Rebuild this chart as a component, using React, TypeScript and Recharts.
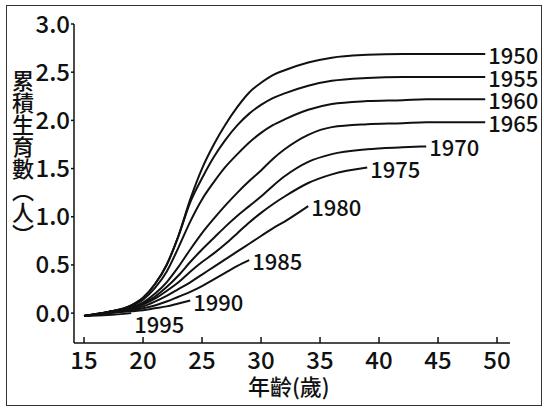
import { Line, LineChart, XAxis, YAxis } from "recharts";

const FONT = '"Noto Sans CJK TC", "Noto Sans", sans-serif';

// age (years) at which each cohort curve is sampled
const AGES = [15, 17, 19, 20, 21, 22, 23, 24, 25, 26, 27, 28, 29, 30, 31, 32, 34, 36, 39, 42, 44, 46, 49];

// cumulative births per woman, by birth cohort (null = not yet observed)
const c1950 = [-0.03, 0.01, 0.08, 0.16, 0.3, 0.5, 0.8, 1.18, 1.5, 1.75, 1.96, 2.14, 2.29, 2.39, 2.47, 2.52, 2.6, 2.65, 2.68, 2.69, 2.69, 2.69, 2.69];
const c1955 = [-0.03, 0.01, 0.08, 0.16, 0.3, 0.5, 0.8, 1.15, 1.4, 1.62, 1.8, 1.95, 2.07, 2.16, 2.23, 2.28, 2.36, 2.41, 2.44, 2.45, 2.45, 2.45, 2.45];
const c1960 = [-0.03, 0.01, 0.07, 0.14, 0.26, 0.43, 0.68, 0.95, 1.18, 1.36, 1.52, 1.65, 1.77, 1.87, 1.95, 2.01, 2.11, 2.17, 2.2, 2.21, 2.22, 2.22, 2.22];
const c1965 = [-0.03, 0.01, 0.06, 0.11, 0.2, 0.32, 0.48, 0.66, 0.83, 0.98, 1.12, 1.25, 1.37, 1.48, 1.6, 1.7, 1.85, 1.93, 1.96, 1.97, 1.98, 1.98, 1.98];
const c1970 = [-0.03, 0.01, 0.05, 0.1, 0.17, 0.27, 0.39, 0.53, 0.66, 0.78, 0.9, 1.01, 1.11, 1.21, 1.32, 1.42, 1.57, 1.65, 1.7, 1.72, 1.73, null, null];
const c1975 = [-0.03, 0.01, 0.05, 0.09, 0.15, 0.23, 0.32, 0.43, 0.53, 0.62, 0.72, 0.83, 0.94, 1.04, 1.13, 1.21, 1.35, 1.44, 1.51, null, null, null, null];
const c1980 = [-0.03, 0, 0.04, 0.07, 0.12, 0.18, 0.25, 0.32, 0.4, 0.48, 0.56, 0.64, 0.72, 0.8, 0.88, 0.95, 1.11, null, null, null, null, null, null];
const c1985 = [-0.03, 0, 0.03, 0.05, 0.08, 0.12, 0.17, 0.22, 0.28, 0.35, 0.42, 0.49, 0.55, null, null, null, null, null, null, null, null, null, null];
const c1990 = [-0.03, 0, 0.02, 0.03, 0.05, 0.07, 0.1, 0.13, null, null, null, null, null, null, null, null, null, null, null, null, null, null, null];
const c1995 = [-0.03, -0.02, 0, null, null, null, null, null, null, null, null, null, null, null, null, null, null, null, null, null, null, null, null];

const COHORTS = [
  { key: "c1950", name: "1950", values: c1950, dy: 0 },
  { key: "c1955", name: "1955", values: c1955, dy: 0 },
  { key: "c1960", name: "1960", values: c1960, dy: 0 },
  { key: "c1965", name: "1965", values: c1965, dy: 0 },
  { key: "c1970", name: "1970", values: c1970, dy: 0 },
  { key: "c1975", name: "1975", values: c1975, dy: 0 },
  { key: "c1980", name: "1980", values: c1980, dy: 0 },
  { key: "c1985", name: "1985", values: c1985, dy: 0 },
  { key: "c1990", name: "1990", values: c1990, dy: 0 },
  { key: "c1995", name: "1995", values: c1995, dy: 10 },
];

const X_TICKS = [15, 20, 25, 30, 35, 40, 45, 50];
const Y_TICKS = [0, 0.5, 1, 1.5, 2, 2.5, 3];

const rows = AGES.map((age, i) => {
  const row: Record<string, number | null> = { age };
  COHORTS.forEach((c) => {
    row[c.key] = c.values[i];
  });
  return row;
});

// draws the cohort year just right of the last observed point
function endLabel(text: string, values: (number | null)[], dy: number) {
  const last = values.reduce((acc: number, v, i) => (v !== null ? i : acc), 0);
  return (props: any) => {
    if (props.index !== last || props.x == null) return <g key={`${text}-${props.index}`} />;
    return (
      <text
        key={`${text}-end`}
        x={props.x + 3}
        y={props.y + dy}
        dominantBaseline="central"
        fontSize={22}
        fontWeight={500}
        fontFamily={FONT}
        fill="#111"
      >
        {text}
      </text>
    );
  };
}

export default function App() {
  return (
    <div style={{ position: "absolute", left: 0, top: 0, width: 544, height: 408, background: "#fff" }}>
      <LineChart
        width={544}
        height={408}
        data={rows}
        margin={{ top: 24, right: 34, bottom: 35, left: 24 }}
      >
        <XAxis
          dataKey="age"
          type="number"
          domain={[14.15, 51.1]}
          ticks={X_TICKS}
          allowDataOverflow
          height={30}
          tickSize={-6}
          tickMargin={15}
          stroke="#111"
          strokeWidth={1.5}
          tick={{ fontSize: 24, fontWeight: 500, fill: "#111", fontFamily: FONT }}
        />
        <YAxis
          type="number"
          domain={[-0.31, 3]}
          ticks={Y_TICKS}
          allowDataOverflow
          width={50}
          tickSize={3}
          tickMargin={1}
          stroke="#111"
          strokeWidth={1.5}
          tickFormatter={(v: number) => v.toFixed(1)}
          tick={{ fontSize: 24, fontWeight: 500, fill: "#111", fontFamily: FONT }}
        />
        {COHORTS.map((c) => (
          <Line
            key={c.key}
            dataKey={c.key}
            type="monotone"
            stroke="#111"
            strokeWidth={2}
            dot={false}
            activeDot={false}
            connectNulls={false}
            isAnimationActive={false}
            label={endLabel(c.name, c.values, c.dy)}
          />
        ))}
      </LineChart>
      <div
        style={{
          position: "absolute",
          left: 12,
          top: 70,
          writingMode: "vertical-rl",
          fontSize: 22,
          fontWeight: 500,
          lineHeight: 1,
          fontFamily: FONT,
          color: "#111",
        }}
      >
        累積生育數（人）
      </div>
      <div
        style={{
          position: "absolute",
          left: 248,
          top: 372,
          fontSize: 22,
          fontWeight: 500,
          lineHeight: 1.2,
          fontFamily: FONT,
          color: "#111",
        }}
      >
        年齡(歲)
      </div>
      <div
        style={{
          position: "absolute",
          left: 6,
          top: 5,
          width: 536,
          height: 401,
          border: "1.5px solid #333",
          boxSizing: "border-box",
          pointerEvents: "none",
        }}
      />
    </div>
  );
}
